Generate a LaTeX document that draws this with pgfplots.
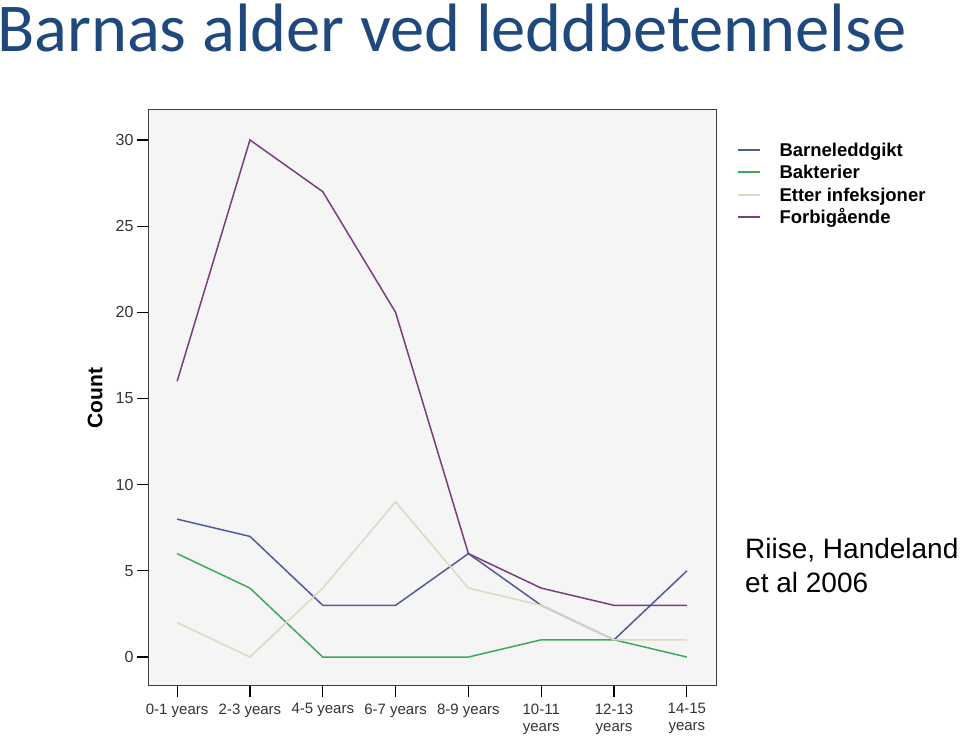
\documentclass[border=0pt]{standalone}
\usepackage{pgfplots}
\pgfplotsset{compat=1.18}
\usepackage{fontspec}
\setmainfont{Liberation Sans}
\newfontfamily\titlefont{Carlito}
\definecolor{cBarn}{HTML}{4E5C98}
\definecolor{cBakt}{HTML}{3CAA5C}
\definecolor{cEtter}{HTML}{DADAC0}
\definecolor{cForb}{HTML}{7A3E7C}
\definecolor{titleblue}{HTML}{1F497D}
\definecolor{plotbg}{HTML}{F5F5F5}
\begin{document}
\begin{tikzpicture}
\useasboundingbox (0,0) rectangle (960pt,746pt);
\node[anchor=base west, inner sep=0, font=\titlefont\fontsize{68.5}{80}\selectfont, text=titleblue] at (-3pt,694pt) {Barnas alder ved leddbetennelse};
\begin{axis}[
  at={(148pt,60pt)}, anchor=south west,
  scale only axis, width=568pt, height=576pt,
  axis background/.style={fill=plotbg},
  axis line style={black!75, line width=1pt},
  xmin=-0.4, xmax=7.4, ymin=-1.68, ymax=31.74,
  xtick={0,...,7},
  xticklabels={{0-1 years},{2-3 years},{4-5 years},{6-7 years},{8-9 years},{10-11\\years},{12-13\\years},{14-15\\years}},
  xticklabel style={align=center, font=\fontsize{15}{17}\selectfont, text=black!80, yshift=-3pt},
  ytick={0,5,...,30},
  yticklabel style={font=\fontsize{16}{18}\selectfont, text=black!80},
  /pgf/number format/assume math mode=true,
  tick align=outside, major tick length=11pt,
  tick style={black, line width=1.2pt},
  xtick pos=bottom, ytick pos=left,
  ylabel={\textbf{Count}},
  ylabel style={font=\fontsize{21}{23}\selectfont, anchor=center, at={(axis description cs:-0.093,0.5)}},
  legend cell align=left,
  legend style={at={(axis description cs:1.036,0.942)}, anchor=north west, draw=none, fill=none,
    font=\bfseries\fontsize{18.5}{20}\selectfont, row sep=5.3pt, inner sep=0pt,
    nodes={inner sep=0pt, text height=13pt, text depth=4pt}},
  legend image code/.code={\draw[#1, line width=1.8pt] (0pt,2pt) -- (22pt,2pt); \path[draw=none] (0pt,2pt) -- (42pt,2pt);},
  every axis plot/.append style={line width=1.5pt},
  clip=false,
]
\addplot[cBarn] coordinates {(0,8) (1,7) (2,3) (3,3) (4,6) (5,3) (6,1) (7,5)};
\addlegendentry{Barneleddgikt}
\addplot[cBakt] coordinates {(0,6) (1,4) (2,0) (3,0) (4,0) (5,1) (6,1) (7,0)};
\addlegendentry{Bakterier}
\addplot[cEtter] coordinates {(0,2) (1,0) (2,4) (3,9) (4,4) (5,3) (6,1) (7,1)};
\addlegendentry{Etter infeksjoner}
\addplot[cForb] coordinates {(0,16) (1,30) (2,27) (3,20) (4,6) (5,4) (6,3) (7,3)};
\addlegendentry{Forbigående}
\end{axis}
\node[anchor=base west, inner sep=0, font=\fontsize{28}{34}\selectfont] at (745pt,187pt) {Riise, Handeland};
\node[anchor=base west, inner sep=0, font=\fontsize{28}{34}\selectfont] at (745pt,153pt) {et al 2006};
\end{tikzpicture}
\end{document}
